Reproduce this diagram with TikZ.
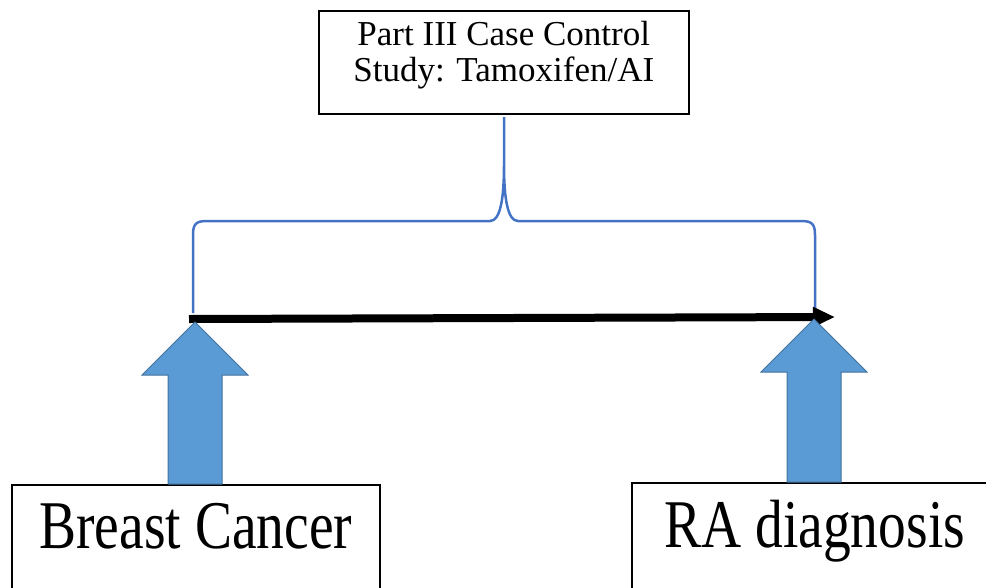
\documentclass[tikz,border=0pt]{standalone}
\usepackage{fontspec}
\setmainfont{Liberation Serif}
\usetikzlibrary{arrows.meta,positioning}

\definecolor{blockblue}{HTML}{5B9BD5}
\definecolor{blockedge}{HTML}{41719C}
\definecolor{bracketblue}{HTML}{4472C4}

\newcommand\midtext{\fontsize{35}{36}\selectfont}
\newcommand\bigtext[1]{\fontsize{55.5}{60}\selectfont\scalebox{1}[1.23]{#1}}
% block arrow pointing up, drawn from its tip
\newcommand\upblock[2]{\draw[blockarrow] (#1) -- ++(53,53) -- ++(-26,0) -- ++(0,#2) -- ++(-54,0) -- ++(0,-#2) -- ++(-26,0) -- cycle;}

\tikzset{
    labelbox/.style={rectangle, draw, line width=1.5pt, inner sep=0pt},
    blockarrow/.style={fill=blockblue, draw=blockedge, line width=1pt},
    bracket/.style={draw=bracketblue, line width=2.5pt},
    timeline/.style={line width=8pt, -{Triangle[length=22pt,width=19pt]}}
}

\begin{document}
\begin{tikzpicture}[x=1pt, y=-1pt]
    \useasboundingbox (0,0) rectangle (986,587);
    \clip (0,0) rectangle (986,587);

    \node[labelbox, minimum width=370pt, minimum height=103pt, anchor=north west] (studybox) at (318,10) {};
    \node[font=\midtext, align=center, inner sep=0pt, below=11pt of studybox.north] (studytext) {Part III Case Control\\Study: Tamoxifen/AI};

    \node[labelbox, minimum width=368pt, text height=64pt, text depth=90pt, anchor=north west] (cancer) at (11,484) {\bigtext{Breast Cancer}};
    \node[labelbox, minimum width=366pt, text height=65pt, text depth=90pt, anchor=north west] (diagnosis) at (631,482) {\bigtext{RA diagnosis}};

    \coordinate (start) at (189,319);
    \coordinate (stop) at (835,317);
    \coordinate (tip) at (504,117);

    % bracket over the time span
    \draw[bracket] (193,313) -- (193,235) .. controls (193,224) and (196,221) .. (207,221)
        -- (490,221) .. controls (500,221) and (504,200) .. (504,165) -- (tip)
        -- (504,165) .. controls (504,200) and (508,221) .. (518,221)
        -- (801,221) .. controls (812,221) and (815,224) .. (815,235) -- (815,313);

    \draw[timeline] (start) -- (stop);

    \upblock{195,322}{109}
    \upblock{814,319}{110}
\end{tikzpicture}
\end{document}
